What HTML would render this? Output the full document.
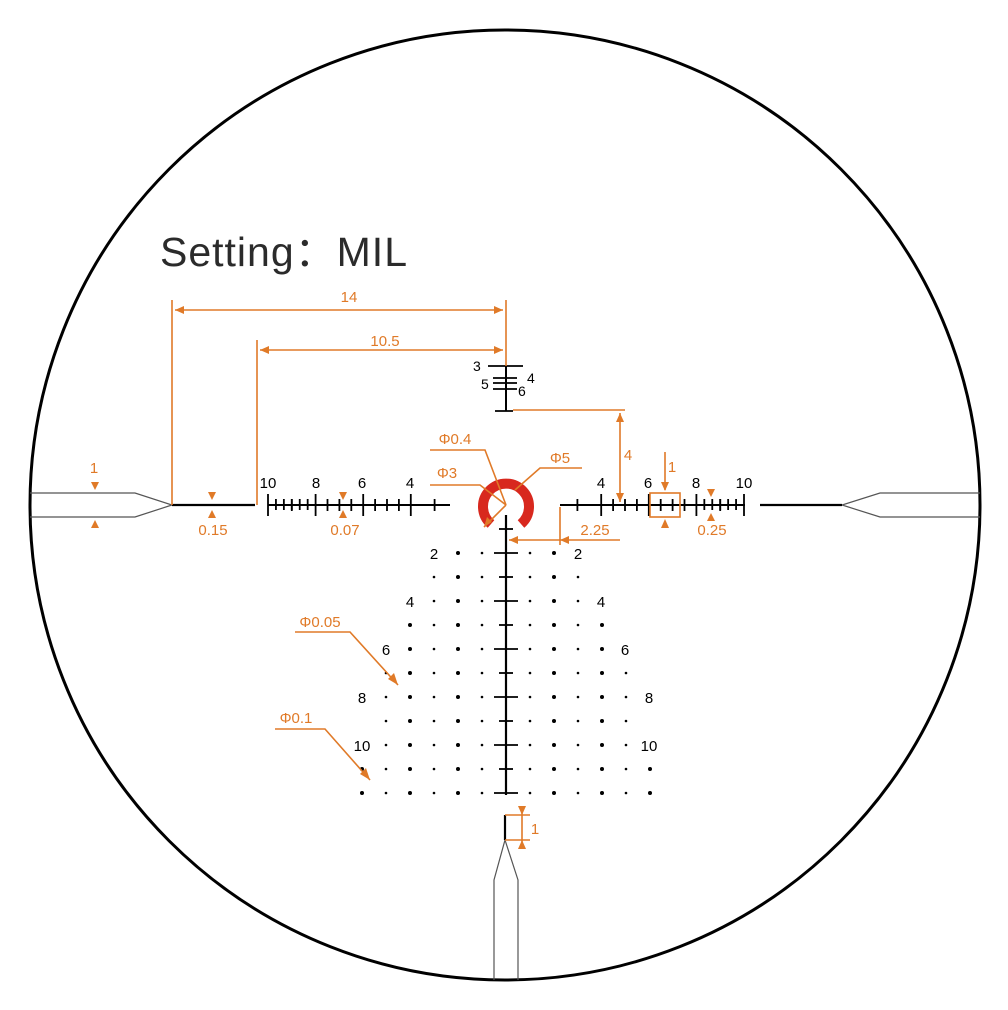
<!DOCTYPE html>
<html><head><meta charset="utf-8"><style>
html,body{margin:0;padding:0;background:#fff;}
svg{display:block;}
text{font-family:"Liberation Sans",sans-serif;}
</style></head><body>
<svg id="s" width="1008" height="1010" viewBox="0 0 1008 1010" xmlns="http://www.w3.org/2000/svg">
<circle cx="505" cy="505" r="475" fill="none" stroke="#000" stroke-width="3"/>
<text x="160" y="266" font-size="41" fill="#2b2b2b" letter-spacing="1" style="font-family:'Liberation Sans','Noto Sans CJK SC',sans-serif">Setting：MIL</text>

<!-- posts -->
<path d="M30 493 H135 L172 505 L135 517 H30" fill="none" stroke="#555" stroke-width="1.2"/>
<path d="M980 493 H880 L842 505 L880 517 H980" fill="none" stroke="#555" stroke-width="1.2"/>
<path d="M494 980 V880 L505 840 L518 880 V980" fill="none" stroke="#555" stroke-width="1.2"/>
<line x1="172" y1="505" x2="255" y2="505" stroke="#000" stroke-width="2.2"/>
<line x1="760" y1="505" x2="842" y2="505" stroke="#000" stroke-width="2.2"/>
<line x1="505" y1="815" x2="505" y2="840" stroke="#000" stroke-width="2.2"/>

<line x1="268" y1="505" x2="450" y2="505" stroke="#000" stroke-width="2"/>
<line x1="560" y1="505" x2="745" y2="505" stroke="#000" stroke-width="2"/>
<line x1="506" y1="515" x2="506" y2="795" stroke="#000" stroke-width="2.2"/>
<line x1="506" y1="366" x2="506" y2="411" stroke="#000" stroke-width="2"/>
<g stroke="#000" stroke-width="1.8">
<line x1="488" y1="366" x2="523" y2="366"/>
<line x1="493" y1="378" x2="517" y2="378"/>
<line x1="493" y1="383" x2="517" y2="383"/>
<line x1="493" y1="389" x2="517" y2="389"/>
<line x1="495" y1="411" x2="513" y2="411"/>
</g>
<g font-size="14" fill="#000">
<text x="473" y="371">3</text><text x="527" y="383">4</text>
<text x="481" y="389">5</text><text x="518" y="396">6</text>
</g>
<g id="ticks" stroke="#000" stroke-width="1.8"></g>
<g id="dots" fill="#000"></g>

<g font-size="15" fill="#000" text-anchor="middle">
<text x="268" y="488">10</text><text x="316" y="488">8</text><text x="362" y="488">6</text><text x="410" y="488">4</text>
<text x="601" y="488">4</text><text x="648" y="488">6</text><text x="696" y="488">8</text><text x="744" y="488">10</text>
<text x="434" y="559">2</text><text x="578" y="559">2</text>
<text x="410" y="607">4</text><text x="601" y="607">4</text>
<text x="386" y="655">6</text><text x="625" y="655">6</text>
<text x="362" y="703">8</text><text x="649" y="703">8</text>
<text x="362" y="751">10</text><text x="649" y="751">10</text>
</g>

<path d="M521 524 A23 23 0 1 0 491 524" fill="none" stroke="#d8281e" stroke-width="10"/>

<g stroke="#e07a28" stroke-width="1.6" fill="none">
<line x1="172" y1="300" x2="172" y2="505"/>
<line x1="257" y1="340" x2="257" y2="505"/>
<line x1="506" y1="300" x2="506" y2="366"/>
<line x1="175" y1="310" x2="503" y2="310"/>
<line x1="260" y1="350" x2="503" y2="350"/>
<line x1="513" y1="410" x2="625" y2="410"/>
<line x1="620" y1="413" x2="620" y2="502"/>
<line x1="560" y1="507" x2="560" y2="545"/>
<line x1="509" y1="540" x2="620" y2="540"/>
<line x1="665" y1="452" x2="665" y2="490"/>
<rect x="650" y="493" width="30" height="24"/>
<line x1="505" y1="815" x2="530" y2="815"/>
<line x1="505" y1="840" x2="530" y2="840"/>
<line x1="522" y1="808" x2="522" y2="848"/>
<polyline points="430,450 485,450 506,505"/>
<polyline points="430,485 480,485 506,505"/>
<polyline points="582,468 540,468 515,490"/>
<line x1="484" y1="527" x2="506" y2="505"/>
<polyline points="295,632 350,632 398,685"/>
<polyline points="275,729 325,729 370,780"/>
</g>
<g fill="#e07a28">
<polygon points="175,310 184,306 184,314"/><polygon points="503,310 494,306 494,314"/>
<polygon points="260,350 269,346 269,354"/><polygon points="503,350 494,346 494,354"/>
<polygon points="620,413 616,422 624,422"/><polygon points="620,502 616,493 624,493"/>
<polygon points="509,540 518,536 518,544"/><polygon points="560,540 569,536 569,544"/>
<polygon points="665,491 661,482 669,482"/><polygon points="665,519 661,528 669,528"/>
<polygon points="95,490 91,482 99,482"/><polygon points="95,520 91,528 99,528"/>
<polygon points="212,500 208,492 216,492"/><polygon points="212,510 208,518 216,518"/>
<polygon points="343,500 339,492 347,492"/><polygon points="343,510 339,518 347,518"/>
<polygon points="711,497 707,489 715,489"/><polygon points="711,513 707,521 715,521"/>
<polygon points="522,815 518,806 526,806"/><polygon points="522,840 518,849 526,849"/>
<polygon points="398,685 388,679 394,673"/><polygon points="370,780 360,774 366,768"/>
<polygon points="484,527 487,517 492,522"/>
</g>
<g font-size="15" fill="#e07a28" text-anchor="middle">
<text x="349" y="302">14</text><text x="385" y="346">10.5</text>
<text x="628" y="460">4</text><text x="672" y="472">1</text>
<text x="94" y="473">1</text><text x="213" y="535">0.15</text>
<text x="345" y="535">0.07</text><text x="712" y="535">0.25</text>
<text x="595" y="535">2.25</text><text x="535" y="834">1</text>
<text x="455" y="444">Φ0.4</text><text x="447" y="478">Φ3</text>
<text x="560" y="463">Φ5</text>
<text x="320" y="627">Φ0.05</text><text x="296" y="723">Φ0.1</text>
</g>
<script>
(function(){
var ns="http://www.w3.org/2000/svg";
var T=document.getElementById("ticks"),D=document.getElementById("dots");
function ln(x1,y1,x2,y2){var l=document.createElementNS(ns,"line");l.setAttribute("x1",x1);l.setAttribute("y1",y1);l.setAttribute("x2",x2);l.setAttribute("y2",y2);T.appendChild(l);}
function dot(x,y,r){var c=document.createElementNS(ns,"circle");c.setAttribute("cx",x);c.setAttribute("cy",y);c.setAttribute("r",r);D.appendChild(c);}
var m=23.8;
for(var i=3;i<=10;i++){var x=506-i*m;var L=(i%2==0)?11:6;ln(x,505-L,x,505+L);}
for(var h=6.5;h<8;h+=1){var x=506-h*m;ln(x,499,x,511);}
for(var h=4.5;h<6;h+=1){var x=506-h*m;ln(x,499,x,511);}
for(var k=1;k<6;k++){var x=506-(8+k*2/6)*m;ln(x,499,x,510);}
for(var i=3;i<=10;i++){var x=506+i*m;var L=(i%2==0)?11:6;ln(x,505-L,x,505+L);}
[4.5,5.5,6.5,7.5].forEach(function(h){var x=506+h*m;ln(x,499,x,511);});
for(var k=1;k<6;k++){var x=506+(8+k*2/6)*m;ln(x,499,x,510);}
ln(499,529,513,529);
for(var r=0;r<=10;r++){var y=553+r*24;if(r%2==0)ln(494,y,518,y);else ln(499,y,513,y);}
var maxk=[2,3,3,4,4,5,5,5,5,6,6];
for(var r=0;r<=10;r++){var y=553+r*24;for(var k=1;k<=maxk[r];k++){var rad=(k%2==0)?2:1.3;dot(506-24*k,y,rad);dot(506+24*k,y,rad);}}
})();
</script>
</svg>
</body></html>
